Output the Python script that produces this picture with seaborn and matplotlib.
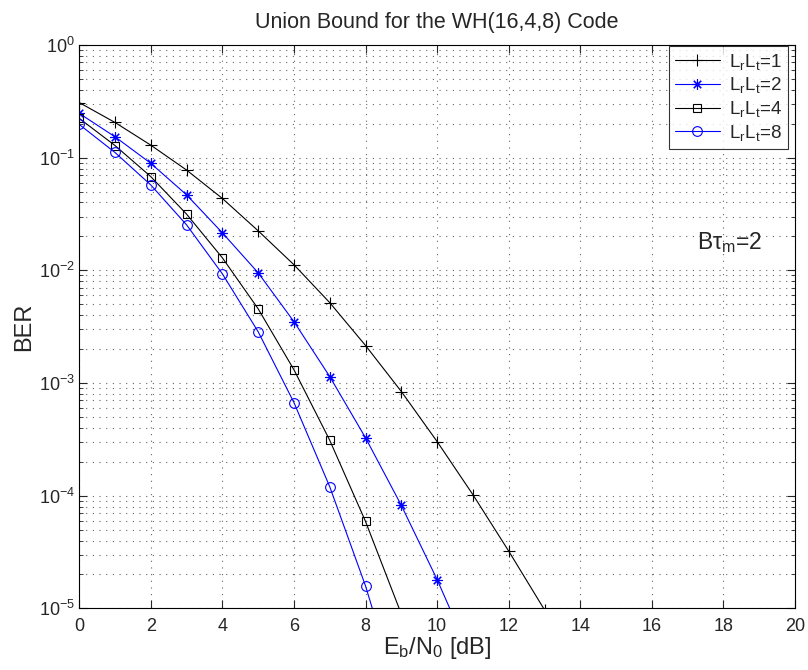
import matplotlib
matplotlib.use('Agg')
import matplotlib.pyplot as plt
import numpy as np
import pandas as pd
import seaborn as sns
from matplotlib.ticker import LogLocator, NullFormatter, MultipleLocator

# ---------------------------------------------------------------------
# data (BER vs Eb/N0, points below 1e-5 get clipped)
# ---------------------------------------------------------------------
ebno_1 = [0, 1, 2, 3, 4, 5, 6, 7, 8, 9, 10, 11, 12, 13]
ber_1 = [0.308, 0.205, 0.129, 0.0775, 0.0434, 0.0224, 0.0112, 0.00516,
         0.00215, 8.4e-4, 3.02e-4, 1.02e-4, 3.22e-5, 9.7e-6]

ebno_2 = [0, 1, 2, 3, 4, 5, 6, 7, 8, 9, 10, 11]
ber_2 = [0.247, 0.153, 0.089, 0.0467, 0.0215, 0.0095, 0.0035, 0.00114,
         3.26e-4, 8.2e-5, 1.8e-5, 3.4e-6]

ebno_4 = [0, 1, 2, 3, 4, 5, 6, 7, 8, 9]
ber_4 = [0.223, 0.128, 0.0678, 0.0315, 0.0129, 0.00455, 0.00131, 3.1e-4,
         5.9e-5, 8.9e-6]

ebno_8 = [0, 1, 2, 3, 4, 5, 6, 7, 8, 9]
ber_8 = [0.197, 0.111, 0.0572, 0.0253, 0.0093, 0.00285, 6.7e-4, 1.2e-4,
         1.58e-5, 1.4e-6]

labels = [r'$\mathregular{L_rL_t}$=1', r'$\mathregular{L_rL_t}$=2',
          r'$\mathregular{L_rL_t}$=4', r'$\mathregular{L_rL_t}$=8']

# ---------------------------------------------------------------------
# style
# ---------------------------------------------------------------------
sns.set_style("ticks")
plt.rcParams['font.family'] = ['Liberation Sans', 'DejaVu Sans']
plt.rcParams['mathtext.fontset'] = 'custom'
plt.rcParams['mathtext.rm'] = 'Liberation Sans'
plt.rcParams['mathtext.it'] = 'Liberation Sans'
plt.rcParams['xtick.direction'] = 'in'
plt.rcParams['ytick.direction'] = 'in'

fig = plt.figure(figsize=(8.08, 6.70), dpi=100)
ax = fig.add_axes([0.098, 0.092, 0.886, 0.841])

# x, y, colour, marker, face, size
series = [
    (ebno_1, ber_1, 'black', '+', 'black', 8),
    (ebno_2, ber_2, 'blue', (8, 2, 0), 'blue', 7.5),
    (ebno_4, ber_4, 'black', 's', 'none', 6),
    (ebno_8, ber_8, 'blue', 'o', 'none', 7),
]

for (x, y, col, mk, face, ms), lab in zip(series, labels):
    df = pd.DataFrame({'EbN0': x, 'BER': y})
    sns.lineplot(data=df, x='EbN0', y='BER', ax=ax, color=col, marker=mk,
                 markersize=ms, markerfacecolor=face, markeredgecolor=col,
                 markeredgewidth=0.8, linewidth=0.8, label=lab)

ax.set_yscale('log')
ax.set_xlim(0, 20)
ax.set_ylim(1e-5, 1)
ax.xaxis.set_major_locator(MultipleLocator(2))
ax.yaxis.set_major_locator(LogLocator(base=10, numticks=10))
ax.yaxis.set_minor_locator(LogLocator(base=10, subs=np.arange(2, 10), numticks=20))
ax.yaxis.set_minor_formatter(NullFormatter())
ax.tick_params(which='both', top=True, right=True, labelsize=13)
ax.tick_params(axis='x', pad=7)
ax.tick_params(axis='y', pad=3)
ax.tick_params(which='major', length=6, width=0.8)
ax.tick_params(which='minor', length=3, width=0.6)

dots = (0, (1, 5))
ax.grid(True, which='major', axis='both', linestyle=dots, color='#666666', linewidth=0.8)
ax.grid(True, which='minor', axis='y', linestyle=dots, color='#666666', linewidth=0.8)
for sp in ax.spines.values():
    sp.set_linewidth(0.8)
    sp.set_color('black')

ax.set_title('Union Bound for the WH(16,4,8) Code', fontsize=15.5, pad=12)
ax.set_xlabel(r'$\mathregular{E_b/N_0}$ [dB]', fontsize=17, labelpad=0)
ax.set_ylabel('BER', fontsize=17, labelpad=3)

ax.text(17.25, 0.0175, r'$\mathregular{B\tau_m}$=2', fontsize=16.5, ha='left', va='center')

leg = ax.legend(loc='upper right', bbox_to_anchor=(0.990, 0.998), fontsize=13.5,
                frameon=True, fancybox=False, edgecolor='black', borderpad=0.3,
                labelspacing=0.2, handlelength=2.4, handletextpad=0.5,
                borderaxespad=0)
leg.get_frame().set_linewidth(0.8)

fig.savefig('out.png', dpi=100)
